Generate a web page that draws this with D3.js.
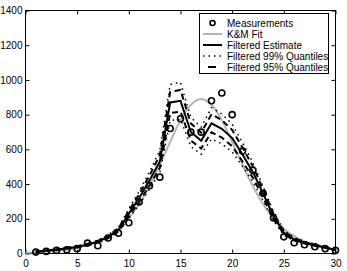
<!DOCTYPE html>
<html>
<head>
<meta charset="utf-8">
<script src="https://cdn.jsdelivr.net/npm/d3@7"></script>
<style>
  body { margin: 0; background: #fff; }
  text { font-family: "Liberation Sans", Arial, sans-serif; font-size: 10px; }
</style>
</head>
<body>
<div id="chart"></div>
<script>
// Days of the epidemic
const days = d3.range(1, 31);
const fitDays = d3.range(0, 31);

// Observed counts (circles)
const measurements = [8, 12, 18, 22, 28, 60, 45, 89, 117, 177, 297, 390, 440, 720, 776,
  699, 699, 880, 925, 800, 590, 480, 347, 205, 96, 62, 50, 39, 28, 18];

// K&M fit (grey curve), days 0..30
const kmFit = [5, 7, 10, 15, 22, 32, 48, 69, 100, 143, 204, 284, 388, 511, 643, 767,
  857, 890, 857, 767, 643, 511, 388, 284, 204, 143, 100, 69, 48, 32, 22];

// Filtered estimate and quantiles, days 1..30
const filtered = [10, 17, 22, 30, 38, 52, 68, 96, 135, 230, 320, 420, 530, 870, 880,
  700, 650, 750, 718, 665, 570, 470, 345, 215, 120, 82, 62, 48, 35, 20];
const upper95 = [11, 18, 24, 32, 41, 56, 73, 103, 145, 246, 342, 449, 567, 931, 942,
  750, 696, 803, 768, 712, 610, 503, 369, 230, 128, 88, 66, 51, 37, 21];
const lower95 = [9, 16, 20, 28, 35, 48, 63, 89, 126, 214, 298, 391, 493, 809, 818,
  651, 605, 698, 668, 618, 530, 437, 321, 200, 112, 76, 58, 45, 33, 19];
const upper99 = [11, 19, 25, 34, 43, 58, 76, 108, 151, 258, 358, 470, 594, 974, 986,
  784, 728, 840, 804, 745, 638, 526, 386, 241, 134, 92, 69, 54, 39, 22];
const lower99 = [9, 15, 19, 26, 33, 46, 60, 84, 119, 202, 282, 370, 466, 766, 774,
  616, 572, 660, 632, 585, 502, 414, 304, 189, 106, 72, 55, 42, 31, 18];

const xTicks = [0, 5, 10, 15, 20, 25, 30];
const yTicks = [0, 200, 400, 600, 800, 1000, 1200, 1400];

const legendLabels = ["Measurements", "K&M Fit", "Filtered Estimate",
  "Filtered 99% Quantiles", "Filtered 95% Quantiles"];

const width = 347, height = 271;
const margin = { left: 25.5, right: 11.5, top: 10.5, bottom: 17.5 };

const svg = d3.select("#chart").append("svg")
  .attr("width", width)
  .attr("height", height);

const x = d3.scaleLinear().domain([0, 30]).range([margin.left, width - margin.right]);
const y = d3.scaleLinear().domain([0, 1400]).range([height - margin.bottom, margin.top]);

// Axes with inward ticks on all four sides
const tickLen = 4;
const fmt = d3.format("d");
svg.append("g")
  .attr("transform", `translate(0,${y(0)})`)
  .call(d3.axisBottom(x).tickValues(xTicks).tickFormat(fmt).tickSizeInner(-tickLen).tickSizeOuter(0).tickPadding(6))
  .call(g => g.select(".domain").remove());
svg.append("g")
  .attr("transform", `translate(0,${y(1400)})`)
  .call(d3.axisTop(x).tickValues(xTicks).tickSizeInner(-tickLen).tickSizeOuter(0).tickFormat(""))
  .call(g => g.select(".domain").remove());
svg.append("g")
  .attr("transform", `translate(${x(0)},0)`)
  .call(d3.axisLeft(y).tickValues(yTicks).tickFormat(fmt).tickSizeInner(-tickLen).tickSizeOuter(0).tickPadding(3))
  .call(g => g.select(".domain").remove());
svg.append("g")
  .attr("transform", `translate(${x(30)},0)`)
  .call(d3.axisRight(y).tickValues(yTicks).tickSizeInner(-tickLen).tickSizeOuter(0).tickFormat(""))
  .call(g => g.select(".domain").remove());

svg.selectAll(".tick text").attr("fill", "#000").style("font-size", "10px");
svg.selectAll(".tick line").attr("stroke", "#000");

// Frame
svg.append("rect")
  .attr("x", x(0)).attr("y", y(1400))
  .attr("width", x(30) - x(0)).attr("height", y(0) - y(1400))
  .attr("fill", "none").attr("stroke", "#000").attr("stroke-width", 1);

const line = d3.line().x(d => x(d[0])).y(d => y(d[1]));
const plot = svg.append("g");

// K&M fit
plot.append("path")
  .attr("d", d3.line().curve(d3.curveCatmullRom).x(d => x(d[0])).y(d => y(d[1]))(d3.zip(fitDays, kmFit)))
  .attr("fill", "none").attr("stroke", "#b4b4b4").attr("stroke-width", 2);

// Quantiles
[upper99, lower99].forEach(s => {
  plot.append("path")
    .attr("d", line(d3.zip(days, s)))
    .attr("fill", "none").attr("stroke", "#000").attr("stroke-width", 1.5)
    .attr("stroke-dasharray", "1.5,4");
});
[upper95, lower95].forEach(s => {
  plot.append("path")
    .attr("d", line(d3.zip(days, s)))
    .attr("fill", "none").attr("stroke", "#000").attr("stroke-width", 2)
    .attr("stroke-dasharray", "6,4");
});

// Filtered estimate
plot.append("path")
  .attr("d", line(d3.zip(days, filtered)))
  .attr("fill", "none").attr("stroke", "#000").attr("stroke-width", 2);

// Measurements
plot.selectAll("circle.meas")
  .data(d3.zip(days, measurements))
  .enter().append("circle")
  .attr("class", "meas")
  .attr("cx", d => x(d[0]))
  .attr("cy", d => y(d[1]))
  .attr("r", 3)
  .attr("fill", "none")
  .attr("stroke", "#000")
  .attr("stroke-width", 1.6);

// Legend
const lg = svg.append("g");
lg.append("rect")
  .attr("x", 199.5).attr("y", 13.5).attr("width", 129).attr("height", 60)
  .attr("fill", "#fff").attr("stroke", "#000").attr("stroke-width", 1);

const rowY = i => 23 + i * 11;
const sx0 = 203, sx1 = 222;

lg.append("circle").attr("cx", (sx0 + sx1) / 2).attr("cy", rowY(0)).attr("r", 2.5)
  .attr("fill", "none").attr("stroke", "#000").attr("stroke-width", 1.6);
lg.append("line").attr("x1", sx0).attr("x2", sx1).attr("y1", rowY(1)).attr("y2", rowY(1))
  .attr("stroke", "#b4b4b4").attr("stroke-width", 2);
lg.append("line").attr("x1", sx0).attr("x2", sx1).attr("y1", rowY(2)).attr("y2", rowY(2))
  .attr("stroke", "#000").attr("stroke-width", 2);
lg.append("line").attr("x1", sx0).attr("x2", sx1).attr("y1", rowY(3)).attr("y2", rowY(3))
  .attr("stroke", "#000").attr("stroke-width", 1.5).attr("stroke-dasharray", "1.5,4");
lg.append("line").attr("x1", sx0 + 5).attr("x2", sx1 - 6).attr("y1", rowY(4)).attr("y2", rowY(4))
  .attr("stroke", "#000").attr("stroke-width", 2);

lg.selectAll("text.lab")
  .data(legendLabels)
  .enter().append("text")
  .attr("class", "lab")
  .attr("x", 227)
  .attr("y", (d, i) => rowY(i))
  .attr("dy", "0.35em")
  .text(d => d);
</script>
</body>
</html>
